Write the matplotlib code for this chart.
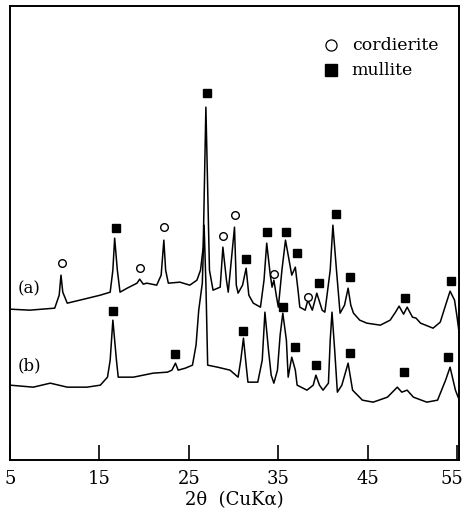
import matplotlib.pyplot as plt
import matplotlib.transforms as mtransforms
import numpy as np

plt.rcParams['font.family'] = ['DejaVu Serif']

# trace (a) : 2theta, intensity (a.u.)
tt_a = [5.0, 7.2, 10.0, 10.5, 10.7, 10.9, 11.4, 12.8, 15.1, 16.2, 16.5, 16.7, 17.0, 17.3,
        18.1, 19.2, 19.5, 19.9, 20.3, 21.4, 21.9, 22.2, 22.4, 22.7, 24.0, 25.1, 25.9,
        26.3, 26.6, 26.9, 27.3, 27.7, 28.5, 28.8, 29.2, 29.4, 30.1, 30.3, 30.5, 31.0,
        31.4, 31.7, 32.2, 33.0, 33.4, 33.7, 34.1, 34.3, 34.5, 34.8, 35.0, 35.4, 35.8,
        36.2, 36.5, 36.9, 37.2, 37.4, 38.0, 38.3, 38.8, 39.3, 39.9, 40.2, 40.8, 41.1,
        41.5, 41.9, 42.4, 42.8, 43.1, 43.4, 44.1, 44.9, 46.4, 47.5, 48.1, 48.5, 49.0,
        49.4, 50.0, 50.4, 50.9, 52.3, 53.1, 53.7, 54.2, 54.7, 55.0, 55.2]
int_a = [151, 150, 152, 165, 185, 168, 157, 160, 165, 168, 190, 222, 190, 168,
         172, 177, 181, 176, 177, 175, 185, 220, 190, 177, 178, 175, 180,
         190, 213, 353, 190, 170, 173, 213, 180, 168, 233, 175, 167, 175,
         192, 165, 157, 153, 180, 217, 185, 173, 180, 163, 153, 190, 220,
         200, 185, 193, 170, 153, 150, 160, 150, 167, 150, 148, 190, 235,
         190, 147, 155, 172, 155, 147, 140, 137, 135, 140, 148, 154, 146,
         153, 143, 142, 137, 132, 138, 155, 169, 160, 142, 128]

# trace (b)
tt_b = [5.0, 7.6, 9.5, 11.4, 13.6, 15.1, 15.9, 16.2, 16.5, 16.9, 17.1, 18.8, 21.0, 22.6,
        23.1, 23.5, 23.8, 24.6, 25.4, 25.8, 26.1, 26.5, 26.7, 26.9, 27.1, 28.2, 29.6,
        30.5, 30.8, 31.1, 31.4, 31.6, 32.7, 33.2, 33.5, 33.9, 34.2, 34.5, 34.9, 35.2,
        35.5, 35.9, 36.1, 36.5, 36.9, 37.1, 38.2, 38.9, 39.2, 39.6, 40.0, 40.6, 40.8,
        41.0, 41.3, 41.6, 42.1, 42.8, 43.3, 44.4, 45.6, 47.2, 48.3, 48.8, 49.4, 50.1,
        51.6, 52.8, 53.7, 54.2, 54.8, 55.1]
int_b = [75, 73, 77, 73, 73, 75, 83, 100, 140, 100, 83, 83, 87, 88,
         90, 97, 90, 92, 95, 115, 150, 177, 235, 177, 95, 93, 90,
         83, 100, 122, 95, 78, 78, 100, 148, 110, 85, 77, 90, 125,
         147, 120, 83, 103, 90, 75, 70, 75, 85, 75, 70, 77, 120,
         148, 110, 68, 75, 97, 70, 60, 58, 63, 73, 68, 70, 63,
         58, 60, 80, 93, 70, 63]

# phase markers
cord_a_x = [10.8, 19.5, 22.2, 28.8, 30.2, 34.5, 38.3]
cord_a_y = [197, 192, 233, 224, 245, 186, 163]
mull_a_x = [16.9, 27.0, 31.4, 33.7, 35.9, 37.1, 39.5, 41.4, 43.0, 49.2, 54.3]
mull_a_y = [232, 367, 201, 228, 228, 207, 177, 246, 183, 162, 179]
mull_b_x = [16.5, 23.5, 31.1, 35.5, 36.9, 39.2, 43.0, 49.1, 54.0]
mull_b_y = [149, 106, 129, 153, 113, 95, 107, 88, 103]

xticks = [5, 15, 25, 35, 45, 55]

fig = plt.figure(figsize=(4.63, 5.13), dpi=100)
ax = fig.add_axes([0.0216, 0.103, 0.9698, 0.885])

ax.plot(tt_a, int_a, color='black', lw=1.1)
ax.plot(tt_b, int_b, color='black', lw=1.1)

ax.plot(cord_a_x, cord_a_y, 'o', ms=5.5, mfc='white', mec='black', mew=1.0)
ax.plot(mull_a_x, mull_a_y, 's', ms=5.5, color='black')
ax.plot(mull_b_x, mull_b_y, 's', ms=5.5, color='black')

# legend by hand
ax.plot([40.9], [415], 'o', ms=8, mfc='white', mec='black', mew=0.9)
ax.plot([40.9], [390], 's', ms=8, color='black')
ax.text(43.2, 415, 'cordierite', fontsize=12.5, va='center')
ax.text(43.2, 390, 'mullite', fontsize=12.5, va='center')

ax.text(5.9, 171, '(a)', fontsize=12, va='center')
ax.text(5.9, 94, '(b)', fontsize=12, va='center')

ax.set_xlim(5, 55.2)
ax.set_ylim(0, 454)
ax.set_yticks([])
ax.set_xticks(xticks)
ax.tick_params(axis='x', direction='in', length=11, width=1.2, labelsize=13, pad=7)
for s in ax.spines.values():
    s.set_linewidth(1.4)
ax.set_xlabel('2θ  (CuKα)', fontsize=13, labelpad=2)

# keep "55" inside the picture
last = ax.get_xticklabels()[-1]
last.set_horizontalalignment('right')
last.set_transform(last.get_transform() + mtransforms.ScaledTranslation(6 / 100, 0, fig.dpi_scale_trans))

fig.savefig('out.png', dpi=100)
